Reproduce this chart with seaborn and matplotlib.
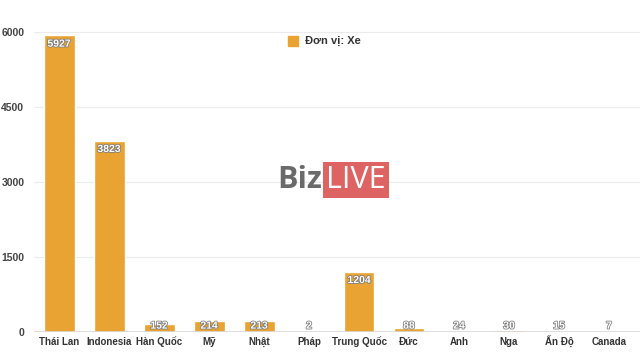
import matplotlib
matplotlib.use("Agg")
import matplotlib.pyplot as plt
import matplotlib.patheffects as pe
import matplotlib.transforms as mtransforms
from matplotlib.patches import Rectangle
import seaborn as sns
import pandas as pd

categories = ["Thái Lan", "Indonesia", "Hàn Quốc", "Mỹ", "Nhật", "Pháp",
              "Trung Quốc", "Đức", "Anh", "Nga", "Ấn Độ", "Canada"]
values = [5927, 3823, 152, 214, 213, 2, 1204, 88, 24, 30, 15, 7]
yticks = [0, 1500, 3000, 4500, 6000]
series_name = "Đơn vị: Xe"

sns.set_theme(style="white")
plt.rcParams["font.family"] = ["Liberation Sans", "DejaVu Sans"]

bar_color = "#E8A333"
df = pd.DataFrame({"country": categories, "value": values})

fig = plt.figure(figsize=(6.4, 3.64), dpi=100)
ax = fig.add_axes([34 / 640, (364 - 332) / 364, (640 - 34) / 640, (332 - 20) / 364])

sns.barplot(data=df, x="country", y="value", color=bar_color, width=0.62,
            saturation=1, ax=ax, zorder=3)

ymax = 6000 + 12 * 6000 / 307
ax.set_ylim(0, ymax)
ax.set_xlim(-0.5, 11.62)
ax.set_yticks(yticks)
ax.set_yticklabels([str(t) for t in yticks])
ax.yaxis.grid(True, color="#ebebeb", linewidth=0.8, zorder=0)
ax.axhline(0, color="#d8d8d8", linewidth=1.2, zorder=4)
for s in ax.spines.values():
    s.set_visible(False)
ax.set_xlabel("")
ax.set_ylabel("")
ax.tick_params(axis="y", length=0, pad=7, labelsize=7.5, labelcolor="#444444")
ax.tick_params(axis="x", length=0, labelbottom=False)
for lbl in ax.get_yticklabels():
    lbl.set_fontweight("bold")

# category labels on a common baseline
trans = mtransforms.blended_transform_factory(ax.transData, ax.transAxes) + \
    mtransforms.ScaledTranslation(0, -13 / 100, fig.dpi_scale_trans)
for i, c in enumerate(categories):
    ax.text(i, 0, c, transform=trans, ha="center", va="baseline",
            fontsize=7, fontweight="bold", color="#333333")

unit = 6000 / 307.0
for i, v in enumerate(values):
    yc = max(v - 8.5 * unit, 6.5 * unit)
    ax.text(i, yc, str(v), ha="center", va="center", color="white",
            fontsize=7.5, fontweight="bold", zorder=6,
            path_effects=[pe.withStroke(linewidth=1.1, foreground="#7a7a7a")])

# legend
fig.patches.append(Rectangle((288 / 640, 1 - 46 / 364), 10 / 640, 10 / 364,
                             transform=fig.transFigure, color=bar_color, figure=fig))
fig.text(305 / 640, 1 - 41 / 364, series_name, fontsize=8, fontweight="bold",
         color="#333333", va="center", ha="left")

# watermark
fig.text(322 / 640, 1 - 180 / 364, "Biz", fontsize=22, color="#6a6a6a",
         fontweight="bold", ha="right", va="center",
         fontfamily=["Open Sans", "DejaVu Sans"])
fig.text(326 / 640, 1 - 180 / 364, "LIVE", fontsize=22, color="white",
         ha="left", va="center", fontfamily=["Open Sans", "DejaVu Sans"],
         bbox=dict(boxstyle="square,pad=0.1", facecolor="#DE6464", edgecolor="none"))

fig.savefig("out.png", dpi=100)
